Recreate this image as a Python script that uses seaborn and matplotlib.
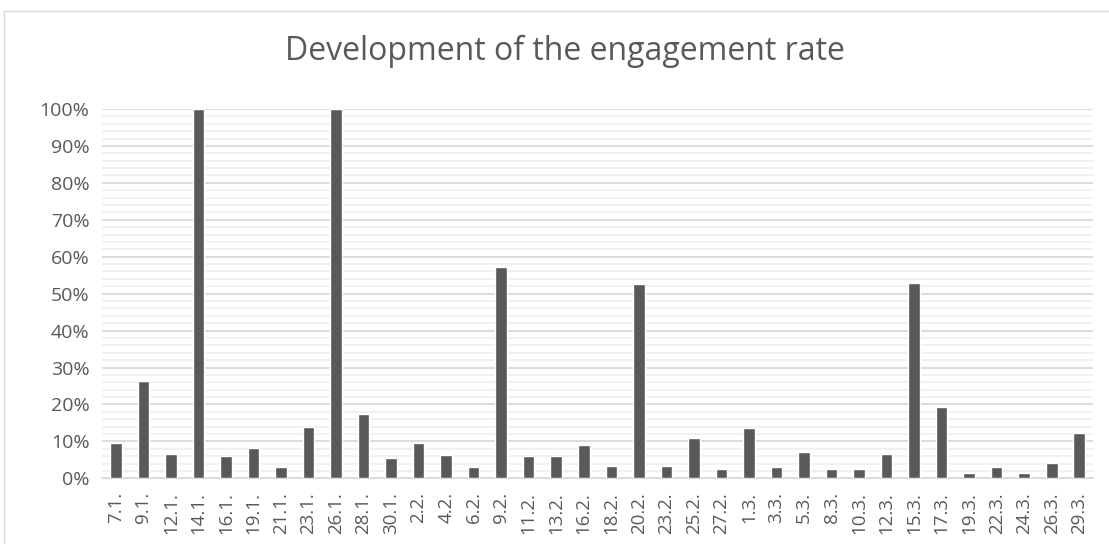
import matplotlib
matplotlib.use("Agg")
import matplotlib.pyplot as plt
import seaborn as sns
import pandas as pd
from matplotlib.ticker import MultipleLocator, PercentFormatter
from matplotlib.patches import Rectangle

dates = ["7.1.", "9.1.", "12.1.", "14.1.", "16.1.", "19.1.", "21.1.", "23.1.", "26.1.",
         "28.1.", "30.1.", "2.2.", "4.2.", "6.2.", "9.2.", "11.2.", "13.2.", "16.2.",
         "18.2.", "20.2.", "23.2.", "25.2.", "27.2.", "1.3.", "3.3.", "5.3.", "8.3.",
         "10.3.", "12.3.", "15.3.", "17.3.", "19.3.", "22.3.", "24.3.", "26.3.", "29.3."]
engagement = [9.6, 26.4, 6.6, 100, 6.1, 8.2, 3.0, 14.0, 100,
              17.3, 5.6, 9.6, 6.4, 3.0, 57.3, 6.1, 6.1, 9.1,
              3.4, 52.6, 3.4, 10.8, 2.5, 13.6, 3.0, 7.0, 2.5,
              2.5, 6.6, 53.0, 19.2, 1.3, 3.0, 1.3, 4.2, 12.2]

df = pd.DataFrame({"date": dates, "rate": [v / 100 for v in engagement]})

sns.set_theme(style="white")
plt.rcParams["font.family"] = ["Open Sans", "DejaVu Sans"]
txt = "#595959"

fig = plt.figure(figsize=(11.09, 5.44), dpi=100)
ax = fig.add_axes([0.092, 0.1208, 0.8936, 0.6788])

sns.barplot(data=df, x="date", y="rate", order=dates, color="#595959",
            saturation=1, width=0.42, ax=ax, zorder=3)

ax.set_ylim(0, 1)
ax.set_xlim(-0.5, len(dates) - 0.5)
ax.yaxis.set_major_locator(MultipleLocator(0.1))
ax.yaxis.set_minor_locator(MultipleLocator(0.02))
ax.yaxis.set_major_formatter(PercentFormatter(1.0, decimals=0))
ax.grid(axis="y", which="major", color="#d9d9d9", linewidth=1.3, zorder=0)
ax.grid(axis="y", which="minor", color="#f0f0f0", linewidth=1.3, zorder=0)
ax.set_axisbelow(True)
for s in ["top", "right", "left"]:
    ax.spines[s].set_visible(False)
ax.spines["bottom"].set_color("#d9d9d9")
ax.spines["bottom"].set_linewidth(1.3)
ax.set_xlabel("")
ax.set_ylabel("")
ax.tick_params(axis="x", length=0, pad=10)
ax.tick_params(axis="y", which="both", length=0, pad=9)
for lab in ax.get_xticklabels():
    lab.set_rotation(90)
    lab.set_fontsize(13.5)
    lab.set_color(txt)
for lab in ax.get_yticklabels():
    lab.set_fontsize(14)
    lab.set_color(txt)

fig.text(0.509, 0.905, "Development of the engagement rate", ha="center", va="center",
         fontsize=23, color=txt)

fig.patches.append(Rectangle((0.004, -0.01), 1.2, 0.99, transform=fig.transFigure,
                             fill=False, edgecolor="#d9d9d9", linewidth=1))

fig.savefig("out.png", dpi=100)
